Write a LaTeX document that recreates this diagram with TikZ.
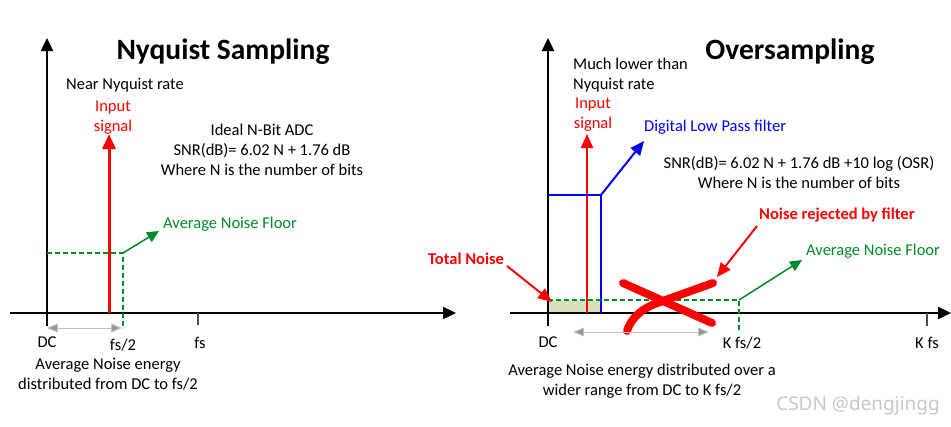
\documentclass[tikz,border=0pt]{standalone}
\usepackage{fontspec}
\setmainfont{Carlito}
\newfontfamily\wmfont{Noto Sans}
\usetikzlibrary{arrows.meta}
\definecolor{ngreen}{RGB}{0,140,40}
\definecolor{nred}{RGB}{255,0,0}
\definecolor{nblue}{RGB}{0,0,255}
\definecolor{fillgreen}{RGB}{214,224,188}
\definecolor{rangegray}{RGB}{150,150,150}
\tikzset{
  txt/.style={font=\fontsize{16.5}{20}\selectfont, inner sep=0pt, align=center},
  btxt/.style={txt, font=\fontsize{16.5}{20}\selectfont\bfseries},
  ttl/.style={font=\fontsize{29.5}{32}\selectfont\bfseries, inner sep=0pt},
  axisline/.style={line width=2.4pt, -{Triangle[length=13pt,width=12pt]}},
  tickline/.style={line width=2pt, draw=black!70},
  noisedash/.style={ngreen, line width=2pt, dash pattern=on 5pt off 3pt},
  garrow/.style={ngreen, line width=1.5pt, -{Triangle[length=12pt,width=11pt]}},
  rarrow/.style={nred, line width=2pt, -{Triangle[length=14pt,width=12pt]}},
  barrow/.style={nblue, line width=2pt, -{Triangle[length=14pt,width=12pt]}},
  rangearrow/.style={rangegray!60, line width=1pt, {Triangle[length=11pt,width=9pt,fill=rangegray]}-{Triangle[length=11pt,width=9pt,fill=rangegray]}},
  crossline/.style={nred, line width=8pt, line cap=round},
}
\begin{document}
\begin{tikzpicture}[x=1pt,y=-1pt]
\useasboundingbox (0,0) rectangle (951,426);

% ---------------- Left panel: Nyquist sampling ----------------
\coordinate (LxS) at (10,313);
\coordinate (LxE) at (456,313);
\coordinate (LyS) at (47,326);
\coordinate (LyE) at (47,38);
\draw[axisline] (LxS) -- (LxE);
\draw[axisline] (LyS) -- (LyE);

\node[ttl] (ltitle) at (223,52) {Nyquist Sampling};
\node[txt, anchor=west] (lnear) at (66,85) {Near Nyquist rate};
\node[txt, text=nred] (linput) at (113,118) {Input\\signal};
\node[txt] (ladc) at (262,150) {Ideal N-Bit ADC\\SNR(dB)= 6.02 N + 1.76 dB\\Where N is the number of bits};

\coordinate (Lsig0) at (109,313);
\coordinate (Lsig1) at (109,134);
\draw[nred, line width=3pt, -{Triangle[length=15pt,width=13pt]}] (Lsig0) -- (Lsig1);

\coordinate (Lnf0) at (47,253);
\coordinate (Lnf1) at (123,253);
\coordinate (Lnf2) at (123,329);
\draw[noisedash] (Lnf0) -- (Lnf1) -- (Lnf2);
\node[txt, text=ngreen, anchor=west] (lavg) at (163,224) {Average Noise Floor};
\coordinate (Lga) at (159,231);
\draw[garrow] (Lnf1) -- (Lga);

\coordinate (Lfs0) at (198,313);
\coordinate (Lfs1) at (198,325);
\draw[tickline] (Lfs0) -- (Lfs1);

\coordinate (Lr0) at (47,328);
\coordinate (Lr1) at (122,328);
\draw[rangearrow] (Lr0) -- (Lr1);

\node[txt] (ldc) at (47,342) {DC};
\node[txt] (lfs2) at (123,345) {fs/2};
\node[txt] (lfs) at (200,343) {fs};
\node[txt] (lenergy) at (108,374) {Average Noise energy\\distributed from DC to fs/2};

% ---------------- Right panel: Oversampling ----------------
\coordinate (RxS) at (510,313);
\coordinate (RxE) at (951,313);
\coordinate (RyS) at (548,326);
\coordinate (RyE) at (548,38);

% shaded in-band noise
\fill[fillgreen] (548,300) rectangle (601,313);

\draw[axisline] (RxS) -- (RxE);
\draw[axisline] (RyS) -- (RyE);

\node[ttl] (rtitle) at (790,52) {Oversampling};
\node[txt, anchor=west, align=left] (rmuch) at (573,75) {Much lower than\\Nyquist rate};
\node[txt, text=nred] (rinput) at (593,115) {Input\\signal};

\coordinate (Rsig0) at (587,313);
\coordinate (Rsig1) at (587,134);
\draw[nred, line width=2pt, -{Triangle[length=14pt,width=12pt]}] (Rsig0) -- (Rsig1);

% digital low pass filter
\coordinate (Rf0) at (548,195);
\coordinate (Rf1) at (601,195);
\coordinate (Rf2) at (601,313);
\draw[nblue, line width=2pt] (Rf0) -- (Rf1) -- (Rf2);
\node[txt, text=nblue, anchor=west] (rlpf) at (644,127) {Digital Low Pass filter};
\coordinate (Rba) at (644,141);
\draw[barrow] (Rf1) -- (Rba);

\node[txt] (rsnr) at (799,173) {SNR(dB)= 6.02 N + 1.76 dB +10 log (OSR)\\Where N is the number of bits};

% noise floor
\coordinate (Rnf0) at (548,300);
\coordinate (Rnf1) at (739,300);
\coordinate (Rnf2) at (739,331);
\draw[noisedash] (Rnf0) -- (Rnf1) -- (Rnf2);
\node[txt, text=ngreen, anchor=west] (ravg) at (806,251) {Average Noise Floor};
\coordinate (Rga) at (802,260);
\draw[garrow] (Rnf1) -- (Rga);

% noise rejected
\node[btxt, text=nred, anchor=west] (rrej) at (759,215) {Noise rejected by filter};
\coordinate (Rrj0) at (757,226);
\coordinate (Rrj1) at (717,277);
\draw[rarrow] (Rrj0) -- (Rrj1);

% total noise
\node[btxt, text=nred, anchor=west] (rtot) at (428,259) {Total Noise};
\coordinate (Rtn0) at (507,266);
\coordinate (Rtn1) at (552,302);
\draw[rarrow] (Rtn0) -- (Rtn1);

% cross
\coordinate (Rx1a) at (623,283);
\coordinate (Rx1b) at (712,323);
\coordinate (Rx2a) at (627,331);
\coordinate (Rx2m) at (660,302);
\coordinate (Rx2b) at (713,283);
\draw[crossline] (Rx1a) -- (Rx1b);
\draw[crossline] (Rx2a) .. controls (631,318) and (642,308) .. (Rx2m) -- (Rx2b);

% ticks and range
\coordinate (Rks0) at (927,313);
\coordinate (Rks1) at (927,326);
\draw[tickline] (Rks0) -- (Rks1);
\coordinate (Rr0) at (573,332);
\coordinate (Rr1) at (709,332);
\draw[rangearrow] (Rr0) -- (Rr1);

\node[txt] (rdc) at (548,342) {DC};
\node[txt] (rkfs2) at (742,343) {K fs/2};
\node[txt] (rkfs) at (927,343) {K fs};
\node[txt] (renergy) at (642,381) {Average Noise energy distributed over a\\wider range from DC to K fs/2};

\node[txt, text=black!22, font=\fontsize{19}{22}\wmfont] (wm) at (858,406) {CSDN @dengjingg};
\end{tikzpicture}
\end{document}
